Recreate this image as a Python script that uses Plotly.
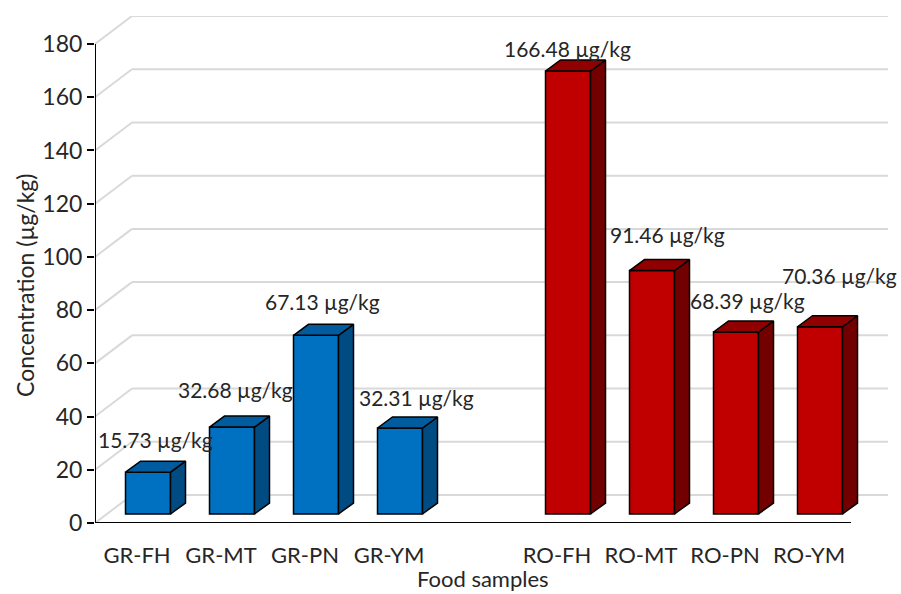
import plotly.graph_objects as go

# ---- data ----
gr_labels = ["GR-FH", "GR-MT", "GR-PN", "GR-YM"]
gr_values = [15.73, 32.68, 67.13, 32.31]
ro_labels = ["RO-FH", "RO-MT", "RO-PN", "RO-YM"]
ro_values = [166.48, 91.46, 68.39, 70.36]
y_ticks = [0, 20, 40, 60, 80, 100, 120, 140, 160, 180]
x_title = "Food samples"
y_title = "Concentration (µg/kg)"

# slot positions (an empty slot separates the two groups)
gr_x = [0, 1, 2, 3]
ro_x = [5, 6, 7, 8]

# ---- 3D look parameters (data units) ----
PX_PER_X = 84.0
PX_PER_Y = 2.661
WALL_DX = 37 / PX_PER_X
WALL_DY = 28 / PX_PER_Y
FX = 11 / PX_PER_X       # front-face shift
FY = 9 / PX_PER_Y
SX = 15 / PX_PER_X       # bar depth
SY = 11 / PX_PER_Y
BW = 45 / PX_PER_X       # bar width
X0 = -0.5
X_END = 8.5
X_MAX = X0 + (888 - 95) / PX_PER_X
Y_MAX = (523 - 16) / PX_PER_Y

FONT = "Lato, Carlito, Calibri, sans-serif"
TXT = "#262626"

blue = dict(front="#0070C0", top="#005C9E", side="#004B82")
red = dict(front="#C00000", top="#900000", side="#730000")

# label nudges in pixels (layout only)
gr_nudge = [(7, -33), (3, -38), (6, -34), (16, -31)]
ro_nudge = [(-1, -23), (15, -36), (11, -32), (19, -51)]

fig = go.Figure()

shapes = []
# back wall / side wall gridlines
for v in y_ticks:
    shapes.append(dict(type="line", xref="x", yref="y", x0=X0, y0=v,
                       x1=X0 + WALL_DX, y1=v + WALL_DY,
                       line=dict(color="#D9D9D9", width=2), layer="below"))
    shapes.append(dict(type="line", xref="x", yref="y", x0=X0 + WALL_DX, y0=v + WALL_DY,
                       x1=X_MAX, y1=v + WALL_DY,
                       line=dict(color="#D9D9D9", width=2), layer="below"))
# axis lines
shapes.append(dict(type="line", xref="x", yref="y", x0=X0, y0=0, x1=X0, y1=180,
                   line=dict(color="black", width=2)))
shapes.append(dict(type="line", xref="x", yref="y", x0=X0, y0=0, x1=X_END, y1=0,
                   line=dict(color="black", width=2)))


def add_group(xs, vals, col, name):
    # front faces
    fig.add_trace(go.Bar(
        x=xs, y=vals, base=FY, width=BW, offset=-BW / 2 + FX,
        marker=dict(color=col["front"], line=dict(color="black", width=1.5)),
        name=name, hoverinfo="skip", showlegend=False))
    for x, v in zip(xs, vals):
        xl = x - BW / 2 + FX
        xr = x + BW / 2 + FX
        top = v + FY
        # side face
        fig.add_trace(go.Scatter(
            x=[xr, xr + SX, xr + SX, xr, xr],
            y=[FY, FY + SY, top + SY, top, FY],
            fill="toself", fillcolor=col["side"], mode="lines",
            line=dict(color="black", width=1.5), hoverinfo="skip", showlegend=False))
        # top face
        fig.add_trace(go.Scatter(
            x=[xl, xl + SX, xr + SX, xr, xl],
            y=[top, top + SY, top + SY, top, top],
            fill="toself", fillcolor=col["top"], mode="lines",
            line=dict(color="black", width=1.5), hoverinfo="skip", showlegend=False))


add_group(gr_x, gr_values, blue, "GR")
add_group(ro_x, ro_values, red, "RO")

annotations = []
for xs, vals, nudges in ((gr_x, gr_values, gr_nudge), (ro_x, ro_values, ro_nudge)):
    for x, v, (dx, dy) in zip(xs, vals, nudges):
        annotations.append(dict(
            x=x + FX, y=v + FY, xref="x", yref="y",
            text=f"{v:.2f} µg/kg", showarrow=False,
            xshift=dx, yshift=-dy,
            font=dict(family=FONT, size=21, color=TXT)))

# axis titles
annotations.append(dict(text=x_title, xref="paper", yref="paper",
                        x=(483 - 95) / (888 - 95), y=-(578 - 523) / (523 - 16),
                        showarrow=False, xanchor="center", yanchor="middle",
                        font=dict(family=FONT, size=22, color=TXT)))
annotations.append(dict(text=y_title, xref="paper", yref="paper",
                        x=-(95 - 25) / (888 - 95), y=(523 - 286) / (523 - 16),
                        showarrow=False, xanchor="center", yanchor="middle",
                        textangle=-90,
                        font=dict(family=FONT, size=23, color=TXT)))

fig.update_layout(
    width=901, height=594,
    margin=dict(l=95, r=13, t=16, b=71),
    paper_bgcolor="white", plot_bgcolor="white",
    barmode="overlay",
    shapes=shapes,
    annotations=annotations,
    font=dict(family=FONT, color=TXT),
    xaxis=dict(range=[X0, X_MAX], showgrid=False, zeroline=False, showline=False,
               tickmode="array", tickvals=gr_x + ro_x, ticktext=gr_labels + ro_labels,
               ticks="", tickfont=dict(family=FONT, size=22, color=TXT),
               ticklabelstandoff=17),
    yaxis=dict(range=[0, Y_MAX], showgrid=False, zeroline=False, showline=False,
               tickmode="array", tickvals=y_ticks, ticks="outside", ticklen=7,
               tickwidth=2, tickcolor="black",
               tickfont=dict(family=FONT, size=23, color=TXT)),
)

fig.write_html("out.html")
